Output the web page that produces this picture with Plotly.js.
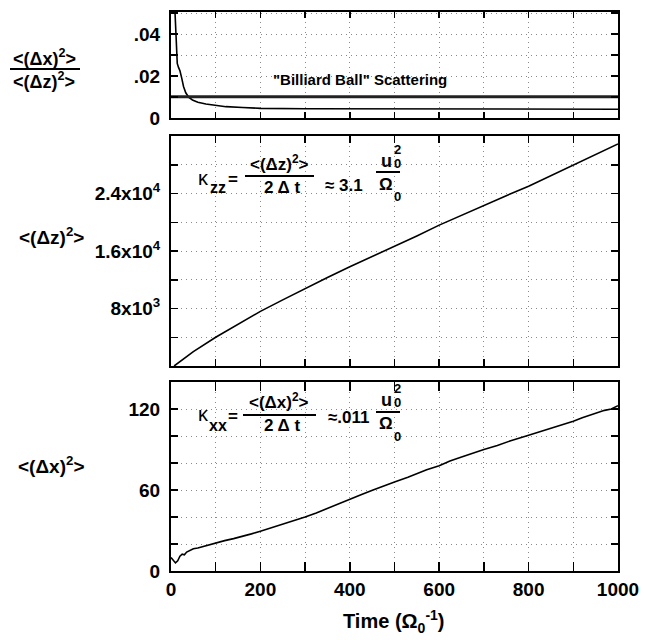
<!DOCTYPE html>
<html>
<head>
<meta charset="utf-8">
<script src="https://cdn.plot.ly/plotly-3.0.1.min.js"></script>
<style>body{margin:0;padding:0;background:#fff;} #chart{width:650px;height:640px;}</style>
</head>
<body>
<div id="chart"></div>
<script>
// ---- data ----
const ratioTime = [8, 10, 11, 12, 14, 17, 20, 24, 28, 33, 40, 48, 60, 78, 100, 123, 160, 200, 300, 500, 700, 1000];
const ratioValue = [0.055, 0.045, 0.035, 0.030, 0.026, 0.024, 0.0225, 0.019, 0.015, 0.012, 0.0098, 0.0086, 0.0075, 0.0067, 0.006, 0.0054, 0.005, 0.0046, 0.0044, 0.0043, 0.0042, 0.0042];
const billiardTime = [0, 1000];
const billiardValue = [0.0101, 0.0101];

const dzTime = [7, 50, 100, 150, 200, 250, 300, 350, 400, 450, 500, 550, 600, 650, 700, 750, 800, 850, 900, 950, 1000];
const dzValue = [0, 2000, 4000, 5800, 7600, 9200, 10800, 12300, 13800, 15200, 16600, 18100, 19600, 21000, 22400, 23700, 25000, 26500, 28000, 29500, 30900];

const dxTime = [0, 5, 10, 15, 20, 25, 30, 35, 40, 45, 50, 60, 70, 80, 90, 100, 120, 140, 160, 180, 200, 220, 240, 260, 280, 300, 325, 350, 375, 400, 425, 452, 475, 500, 530, 572, 600, 624, 650, 680, 700, 730, 760, 800, 830, 871, 900, 920, 945, 970, 985, 1000];
const dxValue = [10, 8, 6, 7.5, 11, 12.5, 12, 14, 15, 15.5, 16.5, 17, 18, 18.5, 19.5, 20.5, 22.5, 24, 25.5, 27.5, 29.5, 31.5, 33.5, 35.5, 37.5, 40, 43, 46.5, 50, 53, 56.5, 60, 63, 66, 69.5, 75, 78, 81.5, 84.5, 88, 90, 93, 96.5, 100.5, 103.5, 108, 111, 113.5, 116.5, 119, 120, 122.5];

const xTickVals = [0, 200, 400, 600, 800, 1000];
const ratioTickVals = [0, 0.02, 0.04];
const ratioTickText = ['0', '.02', '.04'];
const dzTickVals = [8000, 16000, 24000];
const dzTickText = ['8x10<sup>3</sup>', '1.6x10<sup>4</sup>', '2.4x10<sup>4</sup>'];
const dxTickVals = [0, 60, 120];

// ---- layout helpers ----
const FONT = 'Liberation Sans, Arial, Helvetica, sans-serif';
const L = 171, R = 618, T = 12, B = 571;
function px(x) { return (x - L) / (R - L); }
function py(y) { return (B - y) / (B - T); }
function ann(text, x, y, size, bold, extra) {
  return Object.assign({
    text: text, xref: 'paper', yref: 'paper', x: px(x), y: py(y),
    xanchor: 'center', yanchor: 'middle', showarrow: false,
    font: {family: FONT, size: size, color: '#000', weight: bold ? 'bold' : 'normal'}
  }, extra || {});
}
function bar(x0, x1, y, w) {
  return {type: 'line', xref: 'paper', yref: 'paper', x0: px(x0), x1: px(x1), y0: py(y), y1: py(y),
    line: {color: '#000', width: w || 2}};
}

const tickFont = {family: FONT, size: 19, color: '#000', weight: 'bold'};
const GRID = {gridcolor: '#8a8a8a', griddash: '1px,4px', gridwidth: 1};
function xax(anchor, showLabels, ticklen) {
  return Object.assign({
    anchor: anchor, range: [0, 1000], tickmode: 'array', tickvals: xTickVals,
    showticklabels: showLabels, ticks: 'inside', ticklen: ticklen, tickwidth: 1.5, tickcolor: '#000',
    showline: true, linecolor: '#000', linewidth: 2, mirror: 'ticks',
    showgrid: true, zeroline: false, tickfont: tickFont, fixedrange: true,
    minor: Object.assign({tick0: 0, dtick: 100, ticks: 'inside', ticklen: ticklen, tickwidth: 1.5, tickcolor: '#000', showgrid: true}, GRID)
  }, GRID);
}
function yax(anchor, domain, range, vals, text, minorStep) {
  const a = Object.assign({
    anchor: anchor, domain: domain, range: range, tickmode: 'array', tickvals: vals,
    ticks: 'inside', ticklen: 7, tickwidth: 1.5, tickcolor: '#000', ticklabelstandoff: 5,
    showline: true, linecolor: '#000', linewidth: 2, mirror: 'ticks',
    showgrid: true, zeroline: false, tickfont: tickFont, fixedrange: true,
    minor: Object.assign({tick0: 0, dtick: minorStep, ticks: 'inside', ticklen: 7, tickwidth: 1.5, tickcolor: '#000', showgrid: true}, GRID)
  }, GRID);
  if (text) a.ticktext = text;
  return a;
}

const traces = [
  {x: dxTime, y: dxValue, xaxis: 'x', yaxis: 'y', mode: 'lines', line: {color: '#000', width: 1.6}},
  {x: dzTime, y: dzValue, xaxis: 'x2', yaxis: 'y2', mode: 'lines', line: {color: '#000', width: 1.6}},
  {x: ratioTime, y: ratioValue, xaxis: 'x3', yaxis: 'y3', mode: 'lines', line: {color: '#000', width: 1.6}},
  {x: billiardTime, y: billiardValue, xaxis: 'x3', yaxis: 'y3', mode: 'lines', line: {color: '#222', width: 3}}
];

const annotations = [
  // y-axis labels
  ann('&lt;(Δx)<sup>2</sup>&gt;', 44, 58, 18, true),
  ann('&lt;(Δz)<sup>2</sup>&gt;', 44, 80, 18, true),
  ann('&lt;(Δz)<sup>2</sup>&gt;', 52, 236, 19, true),
  ann('&lt;(Δx)<sup>2</sup>&gt;', 52, 465, 19, true),
  // top panel text
  ann('"Billiard Ball" Scattering', 360, 79, 15, true),
  // kappa zz
  ann('κ', 203, 178, 20, false),
  ann('zz', 218, 188, 16, true),
  ann('=', 233, 180, 17, true),
  ann('&lt;(Δz)<sup>2</sup>&gt;', 279, 163, 17, true),
  ann('2 Δ t', 282, 188, 17, true),
  ann('≈ 3.1', 344, 185, 17, true),
  ann('u', 386, 161, 18, true),
  ann('2', 397, 149, 13, true),
  ann('0', 397, 163, 13, true),
  ann('Ω', 386, 184, 17, true),
  ann('0', 397, 196, 13, true),
  // kappa xx
  ann('κ', 203, 414, 20, false),
  ann('xx', 218, 425, 16, true),
  ann('=', 233, 416, 17, true),
  ann('&lt;(Δx)<sup>2</sup>&gt;', 279, 401, 17, true),
  ann('2 Δ t', 282, 425, 17, true),
  ann('≈.011', 348, 417, 17, true),
  ann('u', 386, 400, 18, true),
  ann('2', 397, 388, 13, true),
  ann('0', 397, 402, 13, true),
  ann('Ω', 386, 424, 17, true),
  ann('0', 397, 436, 13, true),
  // x title
  ann('Time (Ω<sub>0</sub><sup>-1</sup>)', 394, 621, 20, true)
];

const shapes = [
  bar(10, 80, 69, 2),
  bar(245, 314, 176, 2),
  bar(376, 400, 172, 2),
  bar(243, 316, 415, 2),
  bar(376, 400, 412, 2)
];

const layout = {
  width: 650, height: 640,
  margin: {l: L, r: 650 - R, t: T, b: 640 - B, pad: 0},
  paper_bgcolor: '#fff', plot_bgcolor: '#fff',
  showlegend: false,
  font: {family: FONT, color: '#000'},
  xaxis: xax('y', true, 9),
  xaxis2: xax('y2', false, 7),
  xaxis3: xax('y3', false, 6),
  yaxis: yax('x', [0, 189 / 559], [0, 140], dxTickVals, null, 20),
  yaxis2: yax('x2', [205 / 559, 435 / 559], [0, 32000], dzTickVals, dzTickText, 4000),
  yaxis3: yax('x3', [453 / 559, 1], [0, 0.0505], ratioTickVals, ratioTickText, 0.01),
  annotations: annotations,
  shapes: shapes
};

Plotly.newPlot('chart', traces, layout, {staticPlot: true, displayModeBar: false});
</script>
</body>
</html>
